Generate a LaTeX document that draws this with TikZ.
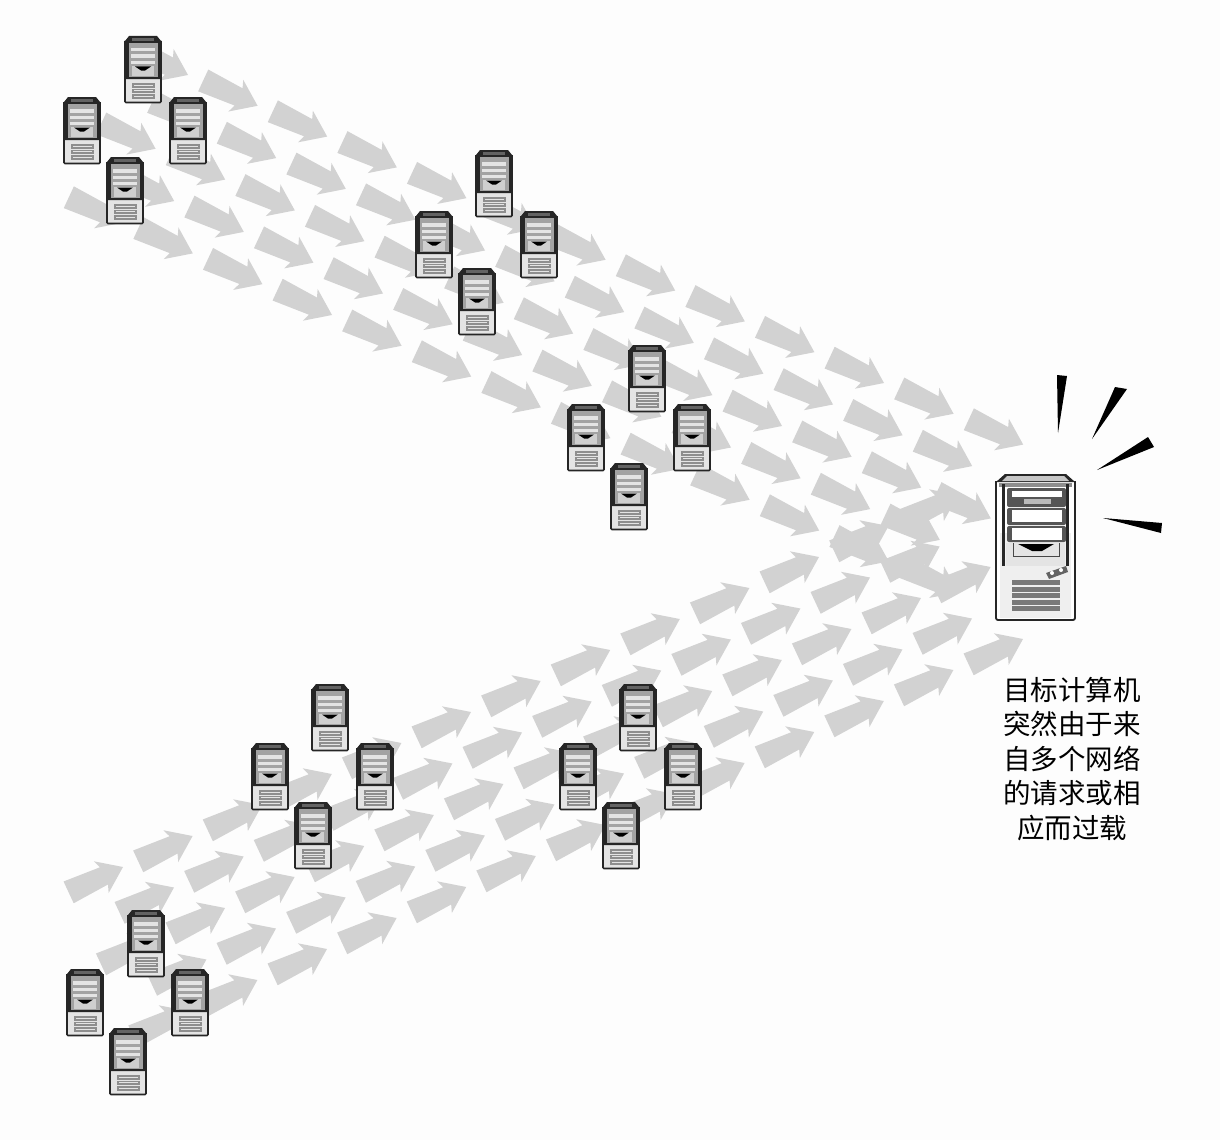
\documentclass[tikz,border=0pt]{standalone}
\usepackage{fontspec}
\newfontfamily\cjkf{Noto Sans CJK SC}
\definecolor{bgc}{HTML}{FDFDFD}
\definecolor{arrc}{HTML}{D2D2D2}
\definecolor{dk}{HTML}{262626}
\definecolor{md}{HTML}{8E8E8E}
\definecolor{lt}{HTML}{E4E4E4}
\tikzset{
  arrowshape/.style={fill=arrc},
  ray/.style={fill=black},
  caption/.style={align=center,font=\cjkf\fontsize{27.5}{34.5}\selectfont,text=black},
  smallserver/.pic={
    \fill[lt] (0.5,4) rectangle (35.5,66.5);
    \fill[dk] (0,5) -- (4,0) -- (32,0) -- (36,5) -- (36,43) -- (0,43) -- cycle;
    \fill[md!70!black] (7,2) rectangle (29,5);
    \fill[md!75!lt] (3.5,7) rectangle (32.5,41);
    \fill[lt] (6,12) rectangle (30,15.5);
    \fill[lt] (6,18.5) rectangle (30,22);
    \fill[lt] (6,25) rectangle (30,28);
    \fill[lt!75!md] (7,30) rectangle (29,39.5);
    \fill[black] (10,30.5) -- (26,30.5) -- (20,34.5) -- (16,34.5) -- cycle;
    \fill[lt] (2,44) rectangle (34,65);
    \foreach \yy in {47,52.5,58}{\fill[md] (7,\yy) rectangle (30,{\yy+4.6});
      \fill[lt] (9,{\yy+1.5}) rectangle (28,{\yy+2.6});}
    \draw[dk,line width=1.6pt,rounded corners=1pt] (0,5) -- (0,66.5) -- (36,66.5) -- (36,5);
  },
  bigserver/.pic={
    \fill[white] (0,8) rectangle (79,148);
    \fill[lt!60!white] (4,60) rectangle (75,145);
    \draw[dk,line width=1.8pt,rounded corners=2pt] (0,8) -- (0,147) -- (79,147) -- (79,8);
    \fill[dk] (0,9) -- (9,1) -- (70,1) -- (79,9) -- cycle;
    \fill[md!50!white] (11,3) -- (68,3) -- (73,8) -- (6,8) -- cycle;
    \fill[md] (3,10) rectangle (76,14);
    \fill[dk] (6,11) rectangle (8.5,93);
    \fill[dk] (70,11) rectangle (72.5,93);
    \fill[md!60!black,rounded corners=2pt] (11,15) rectangle (70,34);
    \fill[white] (16,18) rectangle (66,24);
    \fill[md!60!white] (28,26) rectangle (55,31);
    \fill[md!60!black,rounded corners=2pt] (11,35) rectangle (70,52);
    \fill[white] (16,37) rectangle (66,49);
    \fill[md!60!black,rounded corners=2pt] (11,53) rectangle (70,69);
    \fill[white] (16,55) rectangle (66,66.5);
    \fill[lt] (10,69.5) rectangle (69,93);
    \draw[md!50!black,line width=1pt] (17,70) -- (17,83) -- (63,83) -- (63,70);
    \fill[black] (22,71) -- (58,71) -- (46,78) -- (36,78) -- cycle;
    \fill[md!70!black] (50,100) -- (70,93) -- (72,99) -- (53,106) -- cycle;
    \fill[white] (56,100) circle (2) (65,97) circle (2);
    \foreach \yy in {107,113.5,120,126.5,133}{
      \fill[md!85!black] (16,\yy) rectangle (64,{\yy+5.4});}
  }
}
\newcommand\flowarrow[3]{\fill[arrowshape,shift={(#1,#2)},rotate=#3]
  (0,0) -- (-24,17.5) -- (-21,9.5) -- (-60,12) -- (-60,-12) -- (-21,-9.5) -- (-24,-17.5) -- cycle;}
\begin{document}
\begin{tikzpicture}[x=1pt,y=-1pt]
\useasboundingbox (0,0) rectangle (1220,1140);
\fill[bgc] (0,0) rectangle (1220,1140);
% upper stream
\foreach \k/\ifrom/\ito in {0/0/12,1/1/12,2/1/13,3/2/13,4/2/14}{
  \foreach \i in {\ifrom,...,\ito}{
    \pgfmathsetmacro\tx{188+\i*69.6-\k*51}
    \pgfmathsetmacro\ty{75+\i*30.8+\k*21.5}
    \flowarrow{\tx}{\ty}{-25}
  }
}
% lower stream
\foreach \b/\ifrom/\ito in {0/0/12,1/0/11,2/-1/11,3/-1/10,4/-2/10}{
  \foreach \i in {\ifrom,...,\ito}{
    \pgfmathsetmacro\tx{123+\i*69.6+\b*51}
    \pgfmathsetmacro\ty{867-\i*31+\b*20.5}
    \flowarrow{\tx}{\ty}{25}
  }
}
% small servers
\foreach \sx/\sy [count=\n] in {
  125/36,64/97,170/97,107/157,
  476/150,416/211,521/211,459/268,
  629/345,568/404,674/404,611/463,
  312/684,252/743,357/743,295/802,
  620/684,560/743,665/743,603/802,
  128/910,67/969,172/969,110/1028}{
  \pic (srv\n) at (\sx,\sy) {smallserver};
}
% target
\pic (target) at (996,473) {bigserver};
% rays
\fill[ray] (1057,375) -- (1067,376) -- (1058,433) -- cycle;
\fill[ray] (1115,387) -- (1127,389) -- (1092,439) -- cycle;
\fill[ray] (1148,437) -- (1154,447) -- (1097,470) -- cycle;
\fill[ray] (1162,523) -- (1161,533) -- (1103,518) -- cycle;
% caption
\node[caption] (cap) at (1072,759) {目标计算机\\突然由于来\\自多个网络\\的请求或相\\应而过载};
\end{tikzpicture}
\end{document}
